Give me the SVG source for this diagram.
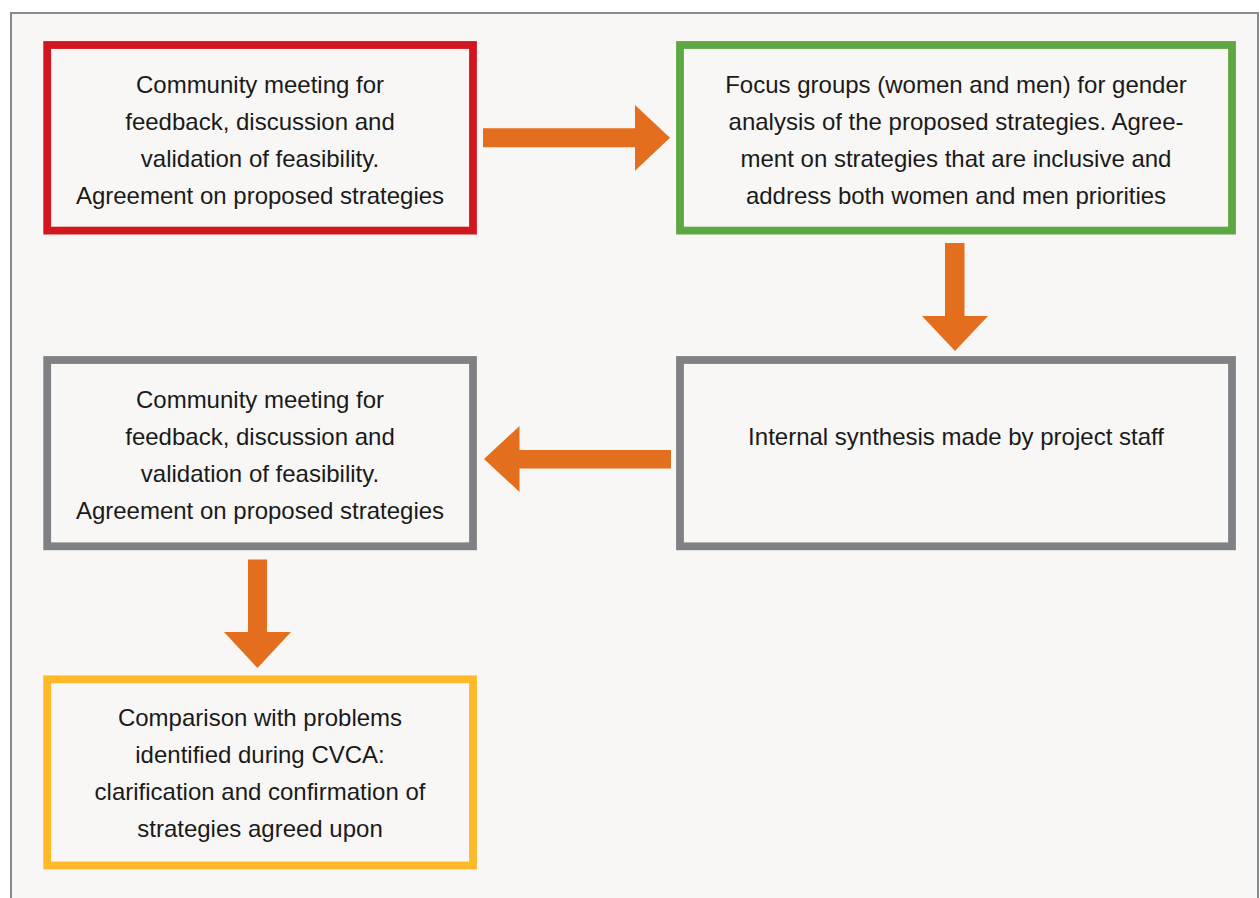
<svg xmlns="http://www.w3.org/2000/svg" width="1260" height="898" viewBox="0 0 1260 898">
<style>
.box{fill:none;stroke-width:7.8}
.t{font-family:"Liberation Sans",Arial,sans-serif;font-size:24px;fill:#1a1a1a;text-anchor:middle}
.arr{fill:#E36F1E}
</style>
<rect x="0" y="0" width="1260" height="898" fill="#ffffff"/>
<rect x="11" y="13" width="1247" height="900" fill="#F8F7F5" stroke="#8A8A8C" stroke-width="2"/>
<g id="connectors">
<path class="arr" d="M483,128.3 H635 V105 L670,137.8 L635,170.7 V147.3 H483 Z"/>
<path class="arr" d="M945,243 H964.5 V316 H988 L955,351 L922,316 H945 Z"/>
<path class="arr" d="M671,450 V468.5 H519.5 V492 L484,459 L519.5,426 V450 Z"/>
<path class="arr" d="M248,559.5 H267 V632 H291 L257.5,668 L224,632 H248 Z"/>
</g>
<g id="n1">
<rect class="box" x="47.2" y="45" width="425.8" height="185.6" stroke="#D1161F"/>
<text class="t" x="260" y="92.5">Community meeting for</text>
<text class="t" x="260" y="129.5">feedback, discussion and</text>
<text class="t" x="260" y="166.5">validation of feasibility.</text>
<text class="t" x="260" y="203.5">Agreement on proposed strategies</text>
</g>
<g id="n2">
<rect class="box" x="680" y="45" width="552" height="185.6" stroke="#5EA843"/>
<text class="t" x="956" y="92.5">Focus groups (women and men) for gender</text>
<text class="t" x="956" y="129.5">analysis of the proposed strategies. Agree-</text>
<text class="t" x="956" y="166.5">ment on strategies that are inclusive and</text>
<text class="t" x="956" y="203.5">address both women and men priorities</text>
</g>
<g id="n3">
<rect class="box" x="680" y="360" width="552" height="186.3" stroke="#808184"/>
<text class="t" x="956" y="445">Internal synthesis made by project staff</text>
</g>
<g id="n4">
<rect class="box" x="47.2" y="360" width="425.8" height="186.3" stroke="#808184"/>
<text class="t" x="260" y="407.5">Community meeting for</text>
<text class="t" x="260" y="444.5">feedback, discussion and</text>
<text class="t" x="260" y="481.5">validation of feasibility.</text>
<text class="t" x="260" y="518.5">Agreement on proposed strategies</text>
</g>
<g id="n5">
<rect class="box" x="47.2" y="679.3" width="425.8" height="186.2" stroke="#FDB927"/>
<text class="t" x="260" y="726">Comparison with problems</text>
<text class="t" x="260" y="763">identified during CVCA:</text>
<text class="t" x="260" y="800">clarification and confirmation of</text>
<text class="t" x="260" y="837">strategies agreed upon</text>
</g>
</svg>
